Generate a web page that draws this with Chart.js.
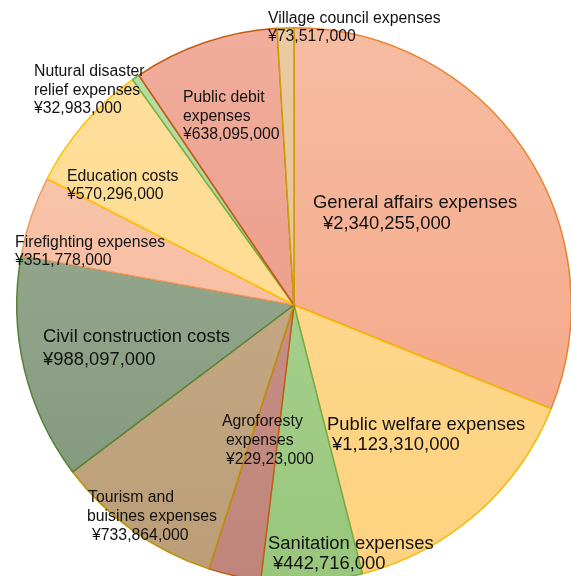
<!DOCTYPE html>
<html>
<head>
<meta charset="utf-8">
<script src="https://cdn.jsdelivr.net/npm/chart.js@4"></script>
<style>
    html, body { margin: 0; padding: 0; background: #fff; overflow: hidden; width: 571px; height: 576px; }
    #wrap { position: absolute; left: 0; top: 0; width: 590px; height: 610px; }
</style>
</head>
<body>
<div id="wrap"><canvas id="pie-chart"></canvas></div>
<script>
// Budget items, clockwise from 12 o'clock (values in yen)
const categories = [
    'General affairs expenses', 'Public welfare expenses', 'Sanitation expenses',
    'Agroforesty expenses', 'Tourism and buisines expenses', 'Civil construction costs',
    'Firefighting expenses', 'Education costs', 'Nutural disaster relief expenses',
    'Public debit expenses', 'Village council expenses'
];
const values = [
    2340255000, 1123310000, 442716000,
    229230000, 733864000, 988097000,
    351778000, 570296000, 32983000,
    638095000, 73517000
];
// Label text as printed on the chart
const labelLines = [
    ['General affairs expenses'], ['Public welfare expenses'], ['Sanitation expenses'],
    ['Agroforesty', 'expenses'], ['Tourism and', 'buisines expenses'], ['Civil construction costs'],
    ['Firefighting expenses'], ['Education costs'], ['Nutural disaster', 'relief expenses'],
    ['Public debit', 'expenses'], ['Village council expenses']
];
const valueLabels = [
    '¥2,340,255,000', '¥1,123,310,000', '¥442,716,000',
    '¥229,23,000', '¥733,864,000', '¥988,097,000',
    '¥351,778,000', '¥570,296,000', '¥32,983,000',
    '¥638,095,000', '¥73,517,000'
];

// Styling: gradient top/bottom fills and border colours
const fillTop = ['#f6bca2', '#fedc98', '#b2d89e', '#cb988d', '#c9b08e', '#a1b19c',
                 '#f9c8b0', '#fee09c', '#badca8', '#f1ad9c', '#ebcaa2'];
const fillBottom = ['#f4a17f', '#fed27f', '#98c67b', '#c0857a', '#bb9e77', '#7e9576',
                    '#f6b696', '#fed889', '#a9d192', '#e7917c', '#e4bd8f'];
const borders = ['#e8822e', '#f4b800', '#70ad47', '#c55a11', '#bf9000', '#548235',
                 '#f0995c', '#ffc000', '#70ad47', '#c55a11', '#c9a000'];

// Label placement relative to the pie centre (px) and font size
const labelLayout = [
    { x: 19,   y: -102, size: 18.4, gap: 21,   indent: [0, 10] },
    { x: 33,   y: 120,  size: 18.4, gap: 20,   indent: [0, 5] },
    { x: -26,  y: 239,  size: 18.4, gap: 20,   indent: [0, 5] },
    { x: -72,  y: 117,  size: 15.8, gap: 19,   indent: [0, 4, 4] },
    { x: -206, y: 193,  size: 15.8, gap: 19,   indent: [0, -1, 4] },
    { x: -251, y: 32,   size: 18.4, gap: 23,   indent: [0, 0] },
    { x: -279, y: -62,  size: 15.8, gap: 18,   indent: [0, 0] },
    { x: -227, y: -128, size: 15.8, gap: 18,   indent: [0, 0] },
    { x: -260, y: -233, size: 15.8, gap: 18.5, indent: [0, 0, 0] },
    { x: -111, y: -207, size: 15.8, gap: 18.5, indent: [0, 0, 0] },
    { x: -26,  y: -286, size: 15.8, gap: 18,   indent: [0, 0] }
];

const sliceLabels = {
    id: 'sliceLabels',
    afterDatasetsDraw(chart) {
        const arc = chart.getDatasetMeta(0).data[0];
        if (!arc) return;
        const ctx = chart.ctx;
        ctx.save();
        ctx.fillStyle = '#111';
        ctx.textAlign = 'left';
        ctx.textBaseline = 'middle';
        labelLayout.forEach((l, i) => {
            const lines = labelLines[i].concat([valueLabels[i]]);
            ctx.font = `${l.size}px "Liberation Sans", Arial, sans-serif`;
            lines.forEach((text, j) => {
                ctx.fillText(text, arc.x + l.x + (l.indent[j] || 0), arc.y + l.y + j * l.gap);
            });
        });
        ctx.restore();
    }
};

function sliceFill(context) {
    const i = context.dataIndex;
    const area = context.chart.chartArea;
    if (!area) return fillTop[i];
    const g = context.chart.ctx.createLinearGradient(0, area.top, 0, area.bottom);
    g.addColorStop(0, fillTop[i]);
    g.addColorStop(1, fillBottom[i]);
    return g;
}

new Chart(document.getElementById('pie-chart'), {
    type: 'pie',
    data: {
        labels: categories,
        datasets: [{
            data: values,
            backgroundColor: sliceFill,
            borderColor: borders,
            borderWidth: 1.5,
            hoverOffset: 0
        }]
    },
    options: {
        responsive: true,
        maintainAspectRatio: false,
        animation: false,
        // places the pie centre at (294, 305) with a ~277px radius
        layout: { padding: { left: 16, right: 18, top: 27, bottom: 27 } },
        plugins: {
            legend: { display: false },
            tooltip: { enabled: false }
        }
    },
    plugins: [sliceLabels]
});
</script>
</body>
</html>
